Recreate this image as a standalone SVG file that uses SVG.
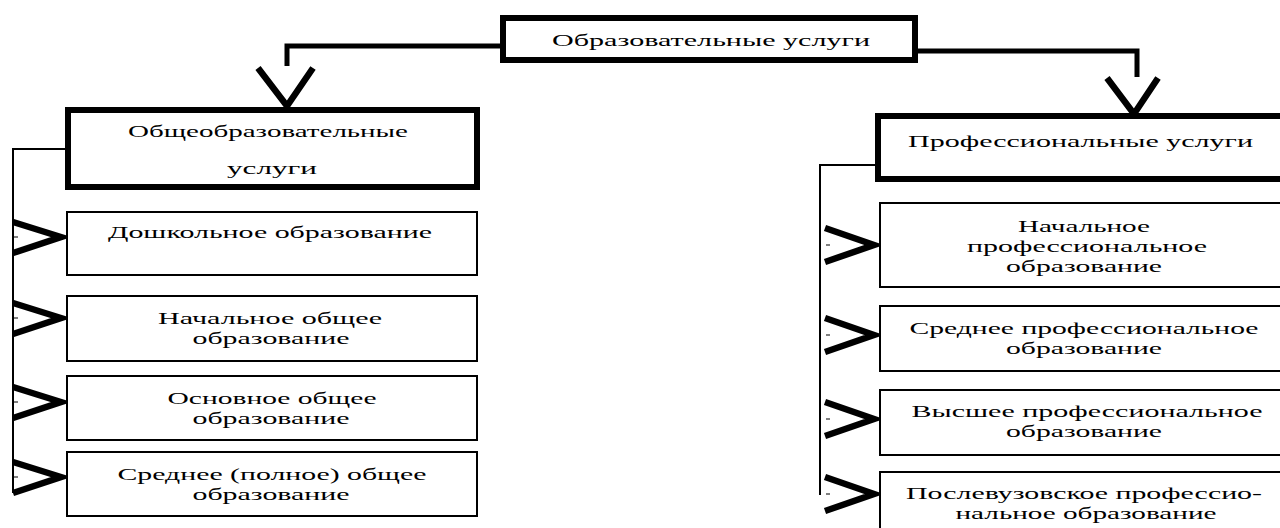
<svg xmlns="http://www.w3.org/2000/svg" width="1280" height="528" viewBox="0 0 1280 528">
<style>
.thick{fill:#fff;stroke:#000;stroke-width:6}
.thin{fill:#fff;stroke:#000;stroke-width:2}
.t{font-family:"Liberation Serif","DejaVu Serif",serif;font-size:17px;fill:#000}
.m{text-anchor:middle}
.ln{fill:none;stroke:#000;stroke-width:2}
.bl{fill:none;stroke:#000;stroke-width:5}
.ch{fill:none;stroke:#000;stroke-width:6.5;stroke-linejoin:miter;stroke-miterlimit:10}
.dash{fill:none;stroke:#000;stroke-width:1}
</style>
<rect width="1280" height="528" fill="#fff"/>
<g id="connectors">
<path class="bl" d="M503,46 H287 V66"/>
<path class="ch" d="M258,68 L287,106 L313,68"/>
<path class="bl" d="M915,51 H1137 V77"/>
<path class="ch" d="M1107,78 L1134,114 L1158,78"/>
<path class="ln" d="M65,149 H13 V493"/>
<path class="ch" d="M13,222 L61,237 L13,253"/>
<path class="ln" d="M61,237 H67"/>
<path class="dash" d="M14,237 H18"/>
<path class="ch" d="M13,303 L61,318 L13,334"/>
<path class="ln" d="M61,318 H67"/>
<path class="dash" d="M14,318 H18"/>
<path class="ch" d="M13,387 L61,402 L13,418"/>
<path class="ln" d="M61,402 H67"/>
<path class="dash" d="M14,402 H18"/>
<path class="ch" d="M13,462 L61,477 L13,493"/>
<path class="ln" d="M61,477 H67"/>
<path class="dash" d="M14,477 H18"/>
<path class="ln" d="M876,165 H820 V495"/>
<path class="ch" d="M825,228 L874,245 L825,262"/>
<path class="ln" d="M874,245 H880"/>
<path class="dash" d="M826,245 H830"/>
<path class="ch" d="M825,318 L874,335 L825,352"/>
<path class="ln" d="M874,335 H880"/>
<path class="dash" d="M826,335 H830"/>
<path class="ch" d="M825,402 L874,419 L825,436"/>
<path class="ln" d="M874,419 H880"/>
<path class="dash" d="M826,419 H830"/>
<path class="ch" d="M825,477 L874,494 L825,511"/>
<path class="ln" d="M874,494 H880"/>
<path class="dash" d="M826,494 H830"/>
</g>
<g id="root">
<rect class="thick" x="503" y="18" width="412" height="42"/>
<text class="t m" x="711" y="46" textLength="318" lengthAdjust="spacingAndGlyphs">Образовательные услуги</text>
</g>
<g id="general">
<rect class="thick" x="68" y="110" width="409" height="77"/>
<text class="t m" x="268" y="137" textLength="280" lengthAdjust="spacingAndGlyphs">Общеобразовательные</text>
<text class="t m" x="272" y="174" textLength="90" lengthAdjust="spacingAndGlyphs">услуги</text>
</g>
<g id="professional">
<rect class="thick" x="878" y="116" width="420" height="63"/>
<text class="t" x="908" y="147" textLength="345" lengthAdjust="spacingAndGlyphs">Профессиональные услуги</text>
</g>
<g id="preschool">
<rect class="thin" x="67" y="212" width="410" height="63"/>
<text class="t m" x="270" y="238" textLength="324" lengthAdjust="spacingAndGlyphs">Дошкольное образование</text>
</g>
<g id="primary-general">
<rect class="thin" x="67" y="296" width="410" height="65"/>
<text class="t m" x="270" y="324" textLength="224" lengthAdjust="spacingAndGlyphs">Начальное общее</text>
<text class="t m" x="271" y="344" textLength="157" lengthAdjust="spacingAndGlyphs">образование</text>
</g>
<g id="basic-general">
<rect class="thin" x="67" y="376" width="410" height="64"/>
<text class="t m" x="272" y="404" textLength="209" lengthAdjust="spacingAndGlyphs">Основное общее</text>
<text class="t m" x="271" y="424" textLength="157" lengthAdjust="spacingAndGlyphs">образование</text>
</g>
<g id="secondary-general">
<rect class="thin" x="67" y="452" width="410" height="64"/>
<text class="t m" x="272" y="480" textLength="309" lengthAdjust="spacingAndGlyphs">Среднее (полное) общее</text>
<text class="t m" x="271" y="500" textLength="157" lengthAdjust="spacingAndGlyphs">образование</text>
</g>
<g id="primary-prof">
<rect class="thin" x="880" y="203" width="420" height="84"/>
<text class="t m" x="1084" y="232" textLength="132" lengthAdjust="spacingAndGlyphs">Начальное</text>
<text class="t m" x="1087" y="252" textLength="240" lengthAdjust="spacingAndGlyphs">профессиональное</text>
<text class="t m" x="1084" y="272" textLength="156" lengthAdjust="spacingAndGlyphs">образование</text>
</g>
<g id="secondary-prof">
<rect class="thin" x="880" y="306" width="420" height="65"/>
<text class="t m" x="1084" y="334" textLength="349" lengthAdjust="spacingAndGlyphs">Среднее профессиональное</text>
<text class="t m" x="1084" y="354" textLength="156" lengthAdjust="spacingAndGlyphs">образование</text>
</g>
<g id="higher-prof">
<rect class="thin" x="880" y="390" width="420" height="65"/>
<text class="t m" x="1087" y="417" textLength="351" lengthAdjust="spacingAndGlyphs">Высшее профессиональное</text>
<text class="t m" x="1084" y="437" textLength="156" lengthAdjust="spacingAndGlyphs">образование</text>
</g>
<g id="postgraduate-prof">
<rect class="thin" x="880" y="472" width="420" height="80"/>
<text class="t m" x="1084" y="499" textLength="356" lengthAdjust="spacingAndGlyphs">Послевузовское профессио-</text>
<text class="t m" x="1086" y="519" textLength="261" lengthAdjust="spacingAndGlyphs">нальное образование</text>
</g>
</svg>
